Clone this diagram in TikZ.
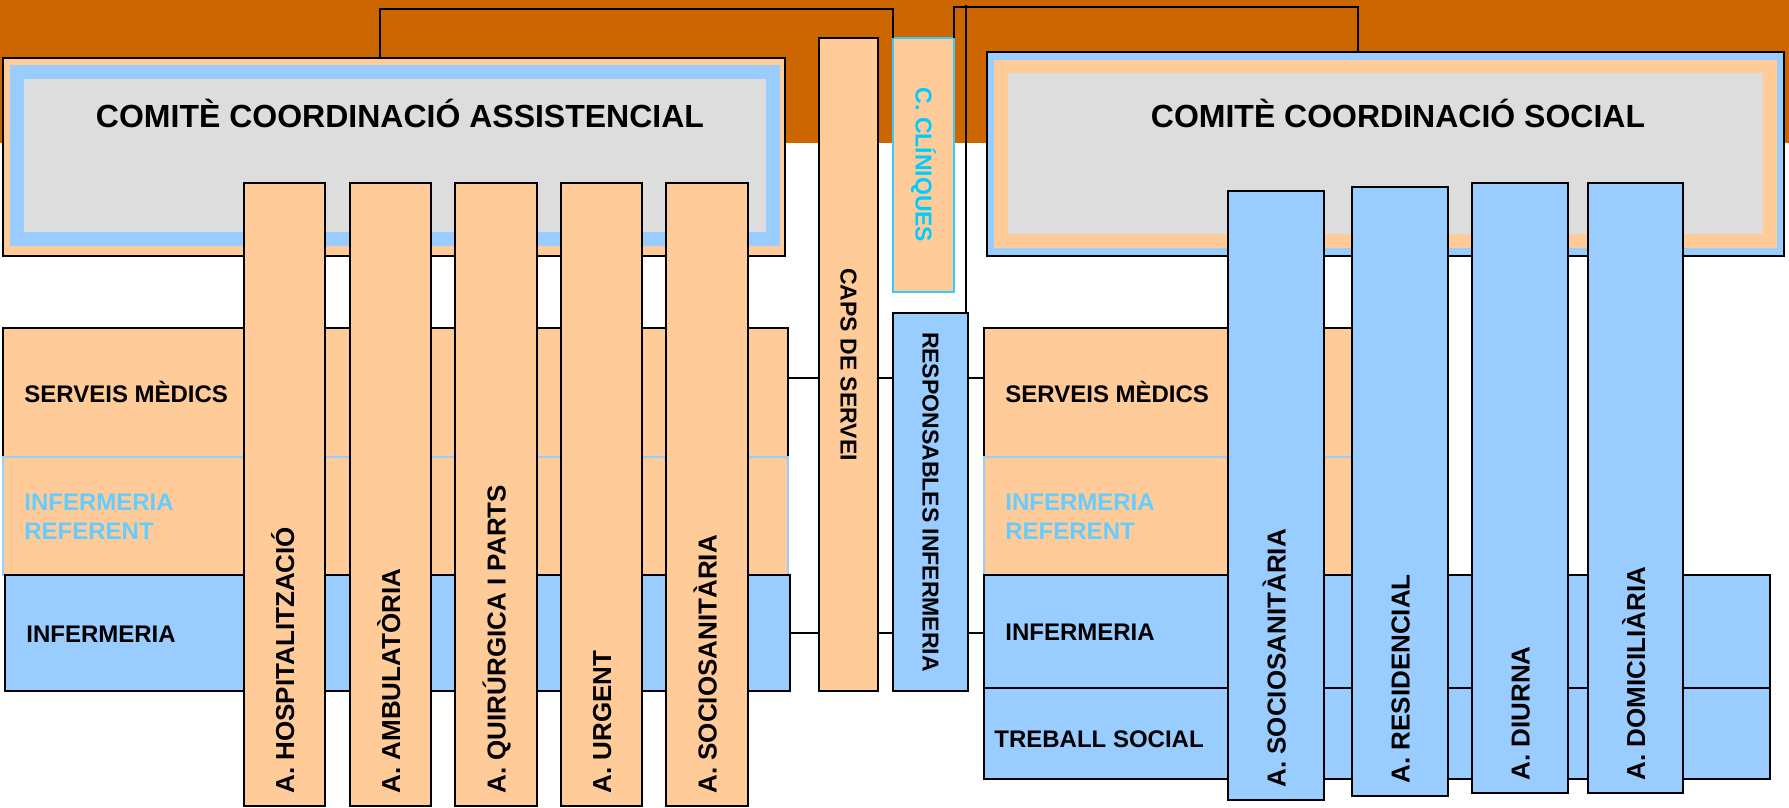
\documentclass[tikz,border=0pt]{standalone}
\usepackage{fontspec}
\setmainfont{Liberation Sans}
\usetikzlibrary{fit}
\definecolor{burnt}{HTML}{CC6600}
\definecolor{peach}{HTML}{FFCC99}
\definecolor{sky}{HTML}{99CCFF}
\definecolor{panel}{HTML}{DDDDDD}
\definecolor{cyanline}{HTML}{33CCFF}
\definecolor{cyantext}{HTML}{00CCFF}
\definecolor{reftext}{HTML}{66CCFF}
\tikzset{
  slab/.style={inner sep=0pt, outer sep=0pt, line width=0.9pt},
  peachbox/.style={slab, draw=black, fill=peach},
  skybox/.style={slab, draw=black, fill=sky},
  refbox/.style={slab, draw=sky, fill=peach},
  clinbox/.style={slab, draw=cyanline, fill=peach},
  pillar/.style={slab, draw=black, fill=#1, line width=0.7pt},
  wire/.style={draw=black, line width=0.7pt},
  comtitle/.style={inner sep=0pt, font=\fontsize{16}{19}\selectfont\bfseries, anchor=base},
  rowlbl/.style={inner sep=0pt, font=\fontsize{12}{14.5}\selectfont\bfseries, anchor=base west},
  collbl/.style={inner sep=0pt, font=\fontsize{13}{15}\selectfont\bfseries, anchor=base west, rotate=90},
  boxlbl/.style={inner sep=0pt, font=\fontsize{11.5}{14}\selectfont\bfseries, rotate=-90}
}
\begin{document}
\begin{tikzpicture}[x=0.5pt, y=-0.5pt, line join=miter]
  \useasboundingbox (0,0) rectangle (1789,808);
  % top band
  \fill[burnt] (0,0) rectangle (1789,143);
  % committees
  \node[peachbox, fit={(3,58) (785,256)}] (comA) {};
  \fill[sky] (10,65) rectangle (780,246);
  \fill[panel] (24,79) rectangle (766,232);
  \node[comtitle] (tA) at (400,128) {COMITÈ COORDINACIÓ ASSISTENCIAL};
  \node[skybox, fit={(987,52) (1784,256)}] (comB) {};
  \fill[peach] (994,60) rectangle (1777,248);
  \fill[panel] (1008,73) rectangle (1763,234);
  \node[comtitle] (tB) at (1398,128) {COMITÈ COORDINACIÓ SOCIAL};
  % rows left
  \node[peachbox, fit={(3,328) (788,457)}] (medL) {};
  \node[refbox, fit={(3,457) (788,575)}] (refL) {};
  \node[skybox, fit={(5,575) (790,691)}] (nurL) {};
  \node[rowlbl] (lmedL) at (24,402) {SERVEIS MÈDICS};
  \node[rowlbl, anchor=north west, align=left, text=reftext] (lrefL) at (24,494) {INFERMERIA\\REFERENT};
  \node[rowlbl] (lnurL) at (26,642) {INFERMERIA};
  % rows right
  \node[peachbox, fit={(984,328) (1400,457)}] (medR) {};
  \node[refbox, fit={(984,457) (1400,575)}] (refR) {};
  \node[skybox, fit={(984,575) (1770,688)}] (nurR) {};
  \node[skybox, fit={(984,688) (1770,779)}] (socR) {};
  \node[rowlbl] (lmedR) at (1005,402) {SERVEIS MÈDICS};
  \node[rowlbl, anchor=north west, align=left, text=reftext] (lrefR) at (1005,494) {INFERMERIA\\REFERENT};
  \node[rowlbl] (lnurR) at (1005,640) {INFERMERIA};
  \node[rowlbl] (lsocR) at (994,747) {TREBALL SOCIAL};
  % columns
  \foreach \nm/\xa/\xb/\ya/\yb/\fc/\txt in {
      colA1/244/325/183/806/peach/A. HOSPITALITZACIÓ,
      colA2/350/431/183/806/peach/A. AMBULATÒRIA,
      colA3/455/537/183/806/peach/A. QUIRÚRGICA I PARTS,
      colA4/561/642/183/806/peach/A. URGENT,
      colA5/666/748/183/806/peach/A. SOCIOSANITÀRIA,
      colS1/1228/1324/191/800/sky/A. SOCIOSANITÀRIA,
      colS2/1352/1448/187/796/sky/A. RESIDENCIAL,
      colS3/1472/1568/183/793/sky/A. DIURNA,
      colS4/1588/1683/183/793/sky/A. DOMICILIÀRIA}{
    \node[pillar=\fc, fit={(\xa,\ya) (\xb,\yb)}] (\nm) {};
    \node[collbl] (l\nm) at ([xshift=4.75pt, yshift=6pt]\nm.south) {\txt};
  }
  % middle boxes
  \node[peachbox, fit={(819,38) (878,691)}] (caps) {};
  \node[clinbox, fit={(893,38) (954,292)}] (cc) {};
  \node[skybox, fit={(893,313) (968,691)}] (resp) {};
  \node[boxlbl] (lcaps) at (caps.center) {CAPS DE SERVEI};
  \node[boxlbl, text=cyantext] (lcc) at (cc.center) {C. CLÍNIQUES};
  \node[boxlbl] (lresp) at (resp.center) {RESPONSABLES INFERMERIA};
  % connectors
  \coordinate (hookA) at (380,9);
  \coordinate (hookB) at (954,7);
  \coordinate (hookC) at (966,5);
  \coordinate (dropB) at (1358,0);
  \coordinate (lvlM) at (0,378);
  \coordinate (lvlN) at (0,633);
  \draw[wire] (comA.north -| hookA) -- (hookA) -| (cc.north west);
  \draw[wire] (cc.north east) -- (hookB) -| (comB.north -| dropB);
  \draw[wire] (hookC) -- (hookC |- resp.north);
  \foreach \lv/\a/\b in {lvlM/medL/medR, lvlN/nurL/nurR}{
    \draw[wire] (\a.east |- \lv) -- (caps.west |- \lv)
      (caps.east |- \lv) -- (resp.west |- \lv)
      (resp.east |- \lv) -- (\b.west |- \lv);
  }
\end{tikzpicture}
\end{document}
